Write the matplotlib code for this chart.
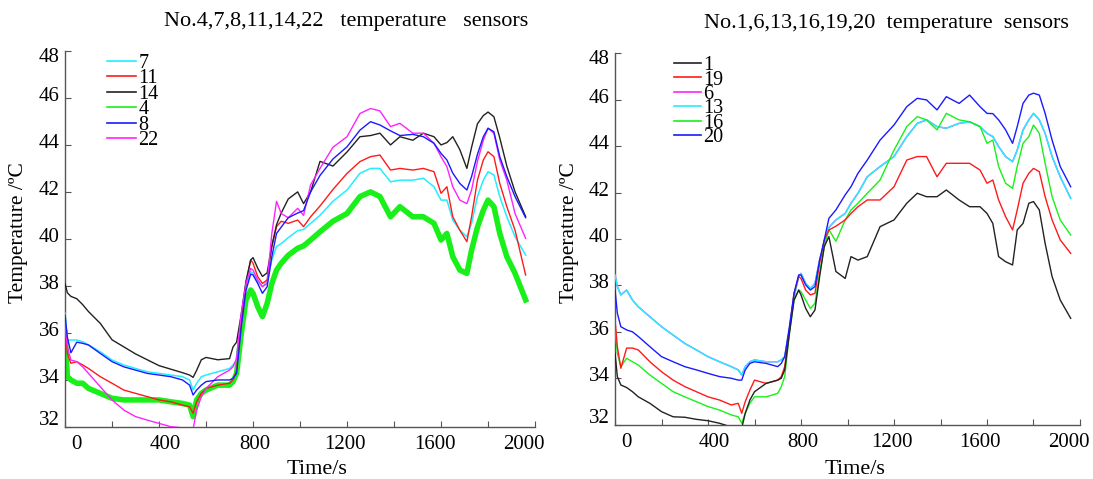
import matplotlib
matplotlib.use("Agg")
import matplotlib.pyplot as plt
from matplotlib.transforms import ScaledTranslation

plt.rcParams['font.family'] = ['Liberation Serif', 'DejaVu Serif']

# time grid (s), shared by both panels
t = [0, 10, 25, 50, 75, 100, 150, 200, 250, 300, 350, 400, 450, 500, 530, 545,
     560, 580, 600, 650, 700, 715, 730, 750, 770, 790, 800, 820, 840, 860, 880,
     900, 920, 950, 990, 1015, 1045, 1085, 1140, 1200, 1255, 1300, 1340, 1385,
     1425, 1480, 1525, 1570, 1600, 1625, 1650, 1680, 1710, 1730, 1755, 1780,
     1800, 1825, 1850, 1880, 1915, 1960]

# left panel: sensors 4, 7, 8, 11, 14, 22
s14 = [38.1, 37.7, 37.55, 37.45, 37.2, 36.9, 36.4, 35.7, 35.4, 35.1, 34.85, 34.6, 34.45, 34.3, 34.2, 34.1,
       34.4, 34.85, 34.95, 34.85, 34.9, 35.4, 35.6, 36.8, 38.2, 39.1, 39.2, 38.75, 38.4, 38.55, 39.7,
       40.6, 41.1, 41.7, 42.0, 41.5, 42.0, 43.3, 43.1, 43.7, 44.35, 44.4, 44.5, 44.0,
       44.35, 44.2, 44.5, 44.35, 44.0, 44.1, 44.35, 43.8, 43.0, 43.9, 44.9, 45.25,
       45.4, 45.2, 44.3, 43.1, 42.0, 40.95]
s8 = [36.76, 35.8, 35.15, 35.6, 35.55, 35.48, 35.12, 34.77, 34.55, 34.41, 34.27, 34.2, 34.13, 33.99, 33.77, 33.35,
      33.56, 33.77, 33.92, 33.99, 33.99, 34.06, 34.27, 36.26, 37.8, 38.5, 38.46, 38.1, 37.68, 37.96, 39.24,
      40.23, 40.5, 40.9, 41.1, 41.2, 42.0, 42.7, 43.4, 43.92, 44.63, 44.99, 44.85, 44.6,
      44.4, 44.45, 44.35, 44.07, 43.64, 43.36, 42.8, 42.36, 42.08, 42.65, 43.6, 44.35,
      44.71, 44.56, 43.5, 42.65, 41.8, 40.9]
s22 = [36.4, 35.4, 34.84, 34.77, 34.55, 34.27, 33.7, 33.14, 32.71, 32.43, 32.28, 32.14, 32.0, 31.95, 31.9, 31.9,
       32.7, 33.28, 33.63, 34.13, 34.41, 34.55, 34.9, 36.83, 38.1, 38.74, 38.67, 38.25, 37.96, 38.1, 40.23,
       41.6, 41.08, 40.9, 41.3, 41.0, 42.3, 43.0, 43.9, 44.35, 45.34, 45.55, 45.45, 44.78,
       44.92, 44.5, 44.5, 44.07, 43.5, 43.07, 42.22, 41.65, 41.5, 42.08, 43.3, 44.2,
       44.71, 44.5, 43.36, 42.5, 41.08, 40.02]
s11 = [36.26, 35.12, 34.7, 34.77, 34.63, 34.48, 34.13, 33.85, 33.56, 33.42, 33.28, 33.14, 33.06, 32.92, 32.85, 32.57,
       33.06, 33.42, 33.63, 33.77, 33.85, 33.99, 34.41, 36.4, 38.1, 39.1, 38.96, 38.39, 38.1, 38.25, 39.67,
       40.52, 40.75, 40.66, 40.8, 40.52, 40.94, 41.4, 42.1, 42.79, 43.29, 43.5, 43.57, 42.93,
       43.0, 42.93, 43.0, 42.86, 41.94, 42.22, 40.94, 40.37, 39.88, 40.94, 42.5, 43.36,
       43.71, 43.5, 42.36, 41.37, 40.37, 38.46]
s7 = [36.83, 35.69, 35.69, 35.69, 35.62, 35.48, 35.19, 34.84, 34.63, 34.48, 34.34, 34.27, 34.2, 34.13, 33.99, 33.56,
      33.85, 34.13, 34.2, 34.34, 34.48, 34.63, 34.84, 36.54, 37.96, 38.6, 38.53, 38.18, 37.96, 38.18, 39.1,
      39.67, 39.8, 40.05, 40.35, 40.4, 40.66, 41.0, 41.6, 42.08, 42.79, 43.0, 43.0, 42.43,
      42.5, 42.5, 42.58, 42.22, 41.65, 41.65, 40.8, 40.37, 40.09, 40.66, 41.8, 42.5,
      42.86, 42.72, 41.8, 40.94, 40.09, 39.31]
s4 = [35.97, 34.13, 33.99, 33.85, 33.85, 33.63, 33.42, 33.21, 33.14, 33.14, 33.14, 33.14, 33.06, 32.99, 32.92, 32.43,
      33.14, 33.42, 33.56, 33.77, 33.77, 33.92, 34.27, 35.97, 37.4, 37.82, 37.68, 37.11, 36.69, 37.25, 38.1,
      38.67, 38.96, 39.3, 39.6, 39.7, 39.95, 40.3, 40.75, 41.08, 41.8, 42.0, 41.8, 40.94,
      41.37, 40.94, 40.94, 40.66, 39.95, 40.23, 39.24, 38.67, 38.53, 39.52, 40.5, 41.22,
      41.65, 41.37, 40.23, 39.24, 38.53, 37.4]

# right panel: sensors 1, 6, 13, 16, 19, 20
s20 = [37.8, 36.8, 36.22, 36.08, 36.0, 35.8, 35.36, 34.93, 34.71, 34.5, 34.36, 34.21, 34.07, 34.0, 33.92, 33.92,
       34.36, 34.64, 34.71, 34.64, 34.5, 34.64, 34.93, 36.22, 37.66, 38.45, 38.45, 38.02, 37.8, 37.95, 39.09,
       39.96, 40.89, 41.25, 41.9, 42.25, 42.83, 43.4, 44.26, 44.91, 45.7, 46.06, 45.99, 45.56,
       46.13, 45.84, 46.2, 45.7, 45.41, 45.4, 45.13, 44.7, 44.12, 44.84, 45.84, 46.2,
       46.28, 46.2, 45.41, 44.26, 43.12, 42.25]
s13 = [38.45, 37.95, 37.59, 37.8, 37.37, 37.08, 36.65, 36.22, 35.86, 35.5, 35.22, 34.93, 34.71, 34.5, 34.36, 34.14,
       34.5, 34.71, 34.79, 34.71, 34.71, 34.79, 34.93, 36.08, 37.51, 38.38, 38.52, 38.09, 37.87, 38.09, 39.09,
       39.81, 40.5, 40.82, 41.1, 41.54, 41.97, 42.68, 43.12, 43.55, 44.41, 44.98, 45.13, 44.84,
       44.77, 44.98, 45.05, 44.84, 44.55, 44.41, 43.98, 43.55, 43.33, 43.83, 44.7, 45.13,
       45.41, 45.13, 44.55, 43.55, 42.68, 41.75]
s16 = [36.22, 35.07, 34.5, 34.86, 34.71, 34.57, 34.14, 33.78, 33.42, 33.2, 32.99, 32.78, 32.63, 32.42, 32.34, 32.06,
       32.49, 32.92, 33.2, 33.2, 33.35, 33.64, 34.07, 35.93, 37.37, 37.8, 37.73, 37.37, 37.01, 37.23, 38.52,
       39.67, 40.4, 39.9, 40.82, 41.25, 41.54, 41.97, 42.54, 43.83, 44.84, 45.27, 45.13, 44.7,
       45.41, 45.13, 45.05, 44.84, 44.12, 44.26, 43.12, 42.4, 42.18, 43.12, 44.12, 44.41,
       44.91, 44.55, 43.26, 41.82, 40.82, 40.17]
s19 = [36.5, 35.36, 34.43, 35.3, 35.3, 35.22, 34.71, 34.28, 33.92, 33.64, 33.42, 33.2, 33.06, 32.85, 32.92, 32.49,
       32.99, 33.49, 33.92, 33.78, 33.92, 34.07, 34.5, 36.08, 37.66, 38.38, 38.3, 37.8, 37.59, 37.66, 38.95,
       39.96, 40.39, 40.55, 40.82, 41.1, 41.39, 41.68, 41.68, 42.25, 43.4, 43.55, 43.55, 42.68,
       43.26, 43.26, 43.26, 42.97, 42.4, 42.54, 41.68, 40.96, 40.39, 41.25, 42.4, 42.83,
       43.04, 42.9, 41.82, 40.82, 39.96, 39.38]
s1 = [35.07, 34.07, 33.71, 33.6, 33.42, 33.2, 32.92, 32.56, 32.34, 32.32, 32.23, 32.17, 32.06, 31.9, 31.9, 31.85,
      32.49, 33.06, 33.42, 33.78, 33.92, 34.0, 34.36, 35.93, 37.37, 37.8, 37.59, 37.01, 36.65, 36.94, 38.38,
      39.67, 40.1, 38.6, 38.3, 39.24, 39.09, 39.24, 40.53, 40.82, 41.54, 41.97, 41.82, 41.82,
      42.11, 41.68, 41.39, 41.39, 41.1, 40.67, 39.24, 39.02, 38.88, 40.39, 40.67, 41.54,
      41.61, 41.25, 39.81, 38.38, 37.37, 36.58]
s6 = s13  # magenta trace hidden under sensor 13

C_CYAN = '#22eeff'
C_RED = '#ff1a1a'
C_BLACK = '#222222'
C_GREEN = '#19f019'
C_BLUE = '#1a1aff'
C_MAG = '#ff22ff'

fig = plt.figure(figsize=(10.93, 4.79), dpi=100)
ax1 = fig.add_axes([0.0595, 0.1092, 0.4300, 0.7843])
ax2 = fig.add_axes([0.5627, 0.1134, 0.4254, 0.7754])

# left
ax1.plot(t, s4, color=C_GREEN, lw=4.0, zorder=2)
ax1.plot(t, s7, color=C_CYAN, lw=1.1, zorder=3)
ax1.plot(t, s11, color=C_RED, lw=1.0, zorder=3)
ax1.plot(t, s14, color=C_BLACK, lw=1.0, zorder=3)
ax1.plot(t, s22, color=C_MAG, lw=1.0, zorder=3)
ax1.plot(t, s8, color=C_BLUE, lw=1.0, zorder=4)
h1 = [plt.Line2D([], [], color=c, lw=1.2) for c in [C_CYAN, C_RED, C_BLACK, C_GREEN, C_BLUE, C_MAG]]
ax1.legend(h1, ['7', '11', '14', '4', '8', '22'], loc='upper left',
           bbox_to_anchor=(0.0979, 0.8872), bbox_transform=fig.transFigure,
           frameon=False, fontsize=14.5, handlelength=1.45, handletextpad=0.1,
           labelspacing=-0.185, borderpad=0, borderaxespad=0)

# right
ax2.plot(t, s6, color=C_MAG, lw=1.0, zorder=2)
ax2.plot(t, s13, color=C_CYAN, lw=1.1, zorder=3)
ax2.plot(t, s16, color=C_GREEN, lw=1.0, zorder=3)
ax2.plot(t, s19, color=C_RED, lw=1.0, zorder=3)
ax2.plot(t, s1, color=C_BLACK, lw=1.0, zorder=3)
ax2.plot(t, s20, color=C_BLUE, lw=1.0, zorder=4)
h2 = [plt.Line2D([], [], color=c, lw=1.2) for c in [C_BLACK, C_RED, C_MAG, C_CYAN, C_GREEN, C_BLUE]]
ax2.legend(h2, ['1', '19', '6', '13', '16', '20'], loc='upper left',
           bbox_to_anchor=(0.6166, 0.883), bbox_transform=fig.transFigure,
           frameon=False, fontsize=14.5, handlelength=1.35, handletextpad=0.1,
           labelspacing=-0.235, borderpad=0, borderaxespad=0)

xt = list(range(0, 2001, 200))
yt = list(range(32, 49, 2))
for ax in (ax1, ax2):
    ax.set_xlim(0, 2000)
    ax.set_ylim(32, 48)
    ax.set_xticks(xt)
    ax.set_xticklabels([str(v) if v % 400 == 0 else '' for v in xt])
    ax.set_yticks(yt)
    ax.tick_params(direction='in', length=4, width=0.8, color='#555555',
                   labelsize=15)
    ax.tick_params(axis='y', pad=4)
    ax.tick_params(axis='x', pad=6)
    for side in ('top', 'right'):
        ax.spines[side].set_visible(False)
    for side in ('left', 'bottom'):
        ax.spines[side].set_color('#555555')
        ax.spines[side].set_linewidth(1.0)
    # tick labels in the original sit a little off their ticks
    for v, lab in zip(xt, ax.get_xticklabels()):
        dx = 11 * (1 - v / 1000) / 100
        lab.set_transform(lab.get_transform() + ScaledTranslation(dx, 0, fig.dpi_scale_trans))
    for v, lab in zip(yt, ax.get_yticklabels()):
        dy = -4 if v == 48 else (9 if v == 32 else 4)
        lab.set_transform(lab.get_transform() + ScaledTranslation(0, dy / 100, fig.dpi_scale_trans))

fig.text(0.317, 0.955, 'No.4,7,8,11,14,22   temperature   sensors', fontsize=16,
         ha='center', va='center')
fig.text(0.811, 0.951, 'No.1,6,13,16,19,20  temperature  sensors', fontsize=16,
         ha='center', va='center')
fig.text(0.290, 0.019, 'Time/s', fontsize=16, ha='center', va='center')
fig.text(0.782, 0.019, 'Time/s', fontsize=16, ha='center', va='center')
fig.text(0.017, 0.515, 'Temperature /ºC', fontsize=15.5, rotation=90, ha='center', va='center')
fig.text(0.521, 0.515, 'Temperature /ºC', fontsize=15.5, rotation=90, ha='center', va='center')

fig.savefig('out.png', dpi=100)
